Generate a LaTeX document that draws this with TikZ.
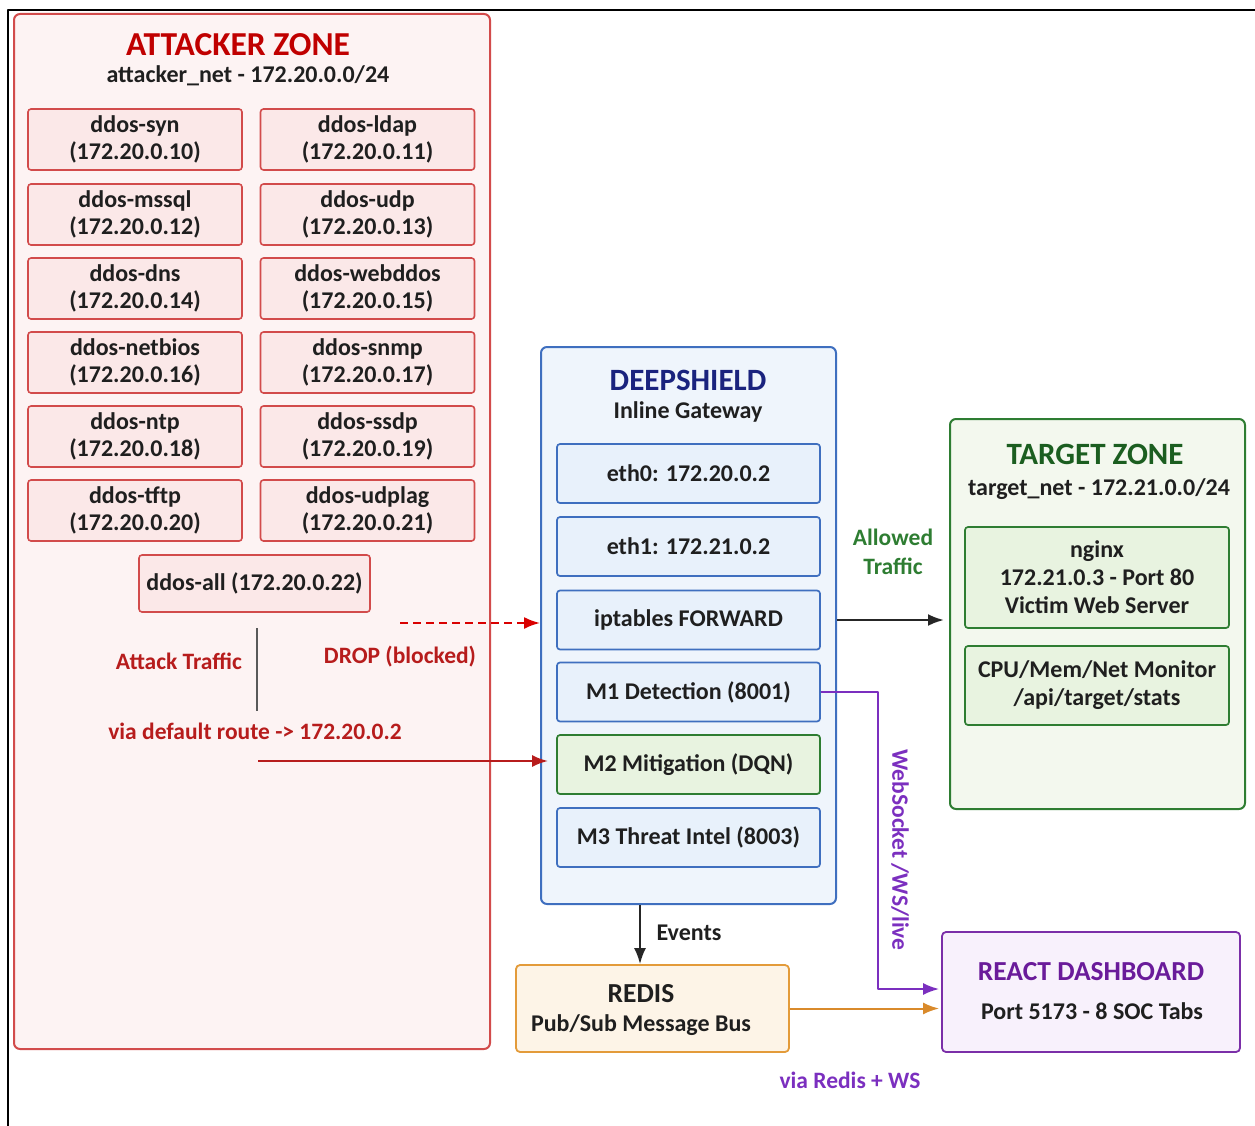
\documentclass[tikz,border=0pt]{standalone}
\usepackage{fontspec}
\setmainfont{Carlito}
\usetikzlibrary{arrows.meta}

\definecolor{attred}{HTML}{D24B4B}
\definecolor{attzone}{HTML}{FDF3F3}
\definecolor{attbox}{HTML}{FBE8E8}
\definecolor{atttext}{HTML}{C00000}
\definecolor{lblred}{HTML}{B71C1C}
\definecolor{shieldline}{HTML}{3F6FBF}
\definecolor{shieldfill}{HTML}{EFF5FC}
\definecolor{shieldbox}{HTML}{E8F1FB}
\definecolor{shieldtext}{HTML}{1A237E}
\definecolor{greenline}{HTML}{2E7D32}
\definecolor{greenfill}{HTML}{F3F8EE}
\definecolor{greenbox}{HTML}{E8F3E0}
\definecolor{greentext}{HTML}{1B5E20}
\definecolor{redisline}{HTML}{E39B3A}
\definecolor{redisfill}{HTML}{FDF4E7}
\definecolor{orangeline}{HTML}{D98A2B}
\definecolor{dashline}{HTML}{7B2FA8}
\definecolor{dashfill}{HTML}{F8F1FC}
\definecolor{dashtext}{HTML}{6A1B9A}
\definecolor{wspurple}{HTML}{7B2FBF}

\begin{document}
\begin{tikzpicture}[x=1pt, y=-1pt, line join=round,
    every node/.style={font=\bfseries\fontsize{24}{27}\selectfont, align=center, inner sep=0pt, text=black!88},
    zone/.style={draw, rounded corners=6pt, line width=2pt},
    ztitle/.style={font=\bfseries\fontsize{31}{34}\selectfont},
    btitle/.style={font=\bfseries\fontsize{27.5}{30}\selectfont},
    lbl/.style={font=\bfseries\fontsize{23.5}{29}\selectfont},
    botbox/.style={draw=attred, fill=attbox, rounded corners=3pt, line width=1.6pt,
      minimum width=214pt, minimum height=61pt},
    gwbox/.style={draw=shieldline, fill=shieldbox, rounded corners=3pt, line width=1.7pt,
      minimum width=263pt, minimum height=59pt},
    tgbox/.style={draw=greenline, fill=greenbox, rounded corners=3pt, line width=1.7pt,
      minimum width=264pt, font=\bfseries\fontsize{24}{28}\selectfont},
    >={Latex[length=16pt, width=12pt]}]

  \useasboundingbox (0,0) rectangle (1255,1126);

  % outer frame (cut at the right and bottom)
  \draw[line width=1.8pt] (8,1140) -- (8,10) -- (1270,10);

  % attacker zone
  \node[zone, draw=attred, fill=attzone, minimum width=476pt, minimum height=1035pt] (attacker) at (252,531.5) {};
  \node[ztitle, font=\bfseries\fontsize{33.5}{36}\selectfont, text=atttext] (atktitle) at (238,45) {ATTACKER ZONE};
  \node (atknet) at (248,76) {attacker\_net - 172.20.0.0/24};

  % the twelve attack containers
  \foreach \nm/\ip/\cx/\cy in {syn/10/135/139.5, ldap/11/367.5/139.5,
      mssql/12/135/214.5, udp/13/367.5/214.5, dns/14/135/288.5, webddos/15/367.5/288.5,
      netbios/16/135/362.5, snmp/17/367.5/362.5, ntp/18/135/436.5, ssdp/19/367.5/436.5,
      tftp/20/135/510.5, udplag/21/367.5/510.5}
    \node[botbox] (bot\nm) at (\cx,\cy) {ddos-\nm\\(172.20.0.\ip)};

  \node[botbox, minimum width=231pt, minimum height=57pt] (botall) at (254.5,583.5) {ddos-all (172.20.0.22)};

  % traffic labels
  \coordinate (splittop) at (257,628);
  \coordinate (splitbot) at (257,711);
  \draw[gray!70!black, line width=1.3pt] (splittop) -- (splitbot);
  \node[lbl, text=lblred] (atklabel) at (179,661) {Attack Traffic};
  \node[lbl, text=lblred] (droplabel) at (400,657) {DROP (blocked)};
  \node[lbl, text=lblred] (routelabel) at (255,731) {via default route -> 172.20.0.2};

  % deepshield gateway
  \node[zone, draw=shieldline, fill=shieldfill, minimum width=295pt, minimum height=557pt] (shield) at (688.5,625.5) {};
  \node[ztitle, text=shieldtext] (shieldtitle) at (688,380) {DEEPSHIELD};
  \node (shieldsub) at (688,412) {Inline Gateway};
  \node[gwbox] (eth0) at (688.5,473.5) {eth0: 172.20.0.2};
  \node[gwbox] (eth1) at (688.5,546.5) {eth1: 172.21.0.2};
  \node[gwbox] (iptables) at (688.5,620) {iptables FORWARD};
  \node[gwbox] (m1) at (688.5,692) {M1 Detection (8001)};
  \node[gwbox, draw=greenline, fill=greenbox] (m2) at (688.5,764.5) {M2 Mitigation (DQN)};
  \node[gwbox] (m3) at (688.5,837.5) {M3 Threat Intel (8003)};

  % target zone
  \node[zone, draw=greenline, fill=greenfill, minimum width=295pt, minimum height=390pt] (target) at (1097.5,614) {};
  \node[ztitle, text=greentext] (tgttitle) at (1095,454) {TARGET ZONE};
  \node (tgtnet) at (1099,489) {target\_net - 172.21.0.0/24};
  \node[tgbox, minimum height=101pt] (nginx) at (1097,577.5) {nginx\\172.21.0.3 - Port 80\\Victim Web Server};
  \node[tgbox, minimum height=79pt] (monitor) at (1097,685.5) {CPU/Mem/Net Monitor\\/api/target/stats};

  % redis and dashboard
  \node[zone, draw=redisline, fill=redisfill, line width=1.8pt, rounded corners=4pt,
    minimum width=273pt, minimum height=87pt] (redis) at (652.5,1008.5) {};
  \node[btitle] (redistitle) at (641,994) {REDIS};
  \node (redissub) at (641,1025) {Pub/Sub Message Bus};
  \node[zone, draw=dashline, fill=dashfill, line width=1.8pt, rounded corners=4pt,
    minimum width=298pt, minimum height=120pt] (dash) at (1091,992) {};
  \node[btitle, text=dashtext] (dashtitle) at (1091,972) {REACT DASHBOARD};
  \node (dashsub) at (1092,1011) {Port 5173 - 8 SOC Tabs};

  % connectors
  \coordinate (dropstart) at (400,623);
  \coordinate (atkstart) at (258,761);
  \draw[->, red!85!black, dash pattern=on 8pt off 5pt, line width=2pt] (dropstart) -- (dropstart -| shield.west);
  \draw[->, lblred, line width=2.4pt, shorten >=8pt] (atkstart) -- (atkstart -| m2.west);

  \draw[->, black!85, line width=2.4pt, shorten >=5pt] (shield.east |- iptables) -- (target.west |- iptables);
  \node[lbl, text=greenline] (allowed) at (893,552) {Allowed\\Traffic};

  \coordinate (wsturn) at (878,989);
  \draw[->, wspurple, line width=2pt, shorten >=2pt] (m1.east) -| (wsturn) -- (wsturn -| dash.west);
  \node[lbl, text=wspurple, rotate=-90] (wslabel) at (900,850) {WebSocket /WS/live};

  \draw[->, black!85, line width=2pt] ([xshift=-12.5pt]redis.north |- shield.south) -- ([xshift=-12.5pt]redis.north);
  \node (events) at (689,933) {Events};

  \draw[->, orangeline, line width=2pt, shorten >=2pt] (redis.east) -- (redis.east -| dash.west);
  \node[lbl, text=wspurple] (vialabel) at (850,1080) {via Redis + WS};

\end{tikzpicture}
\end{document}
